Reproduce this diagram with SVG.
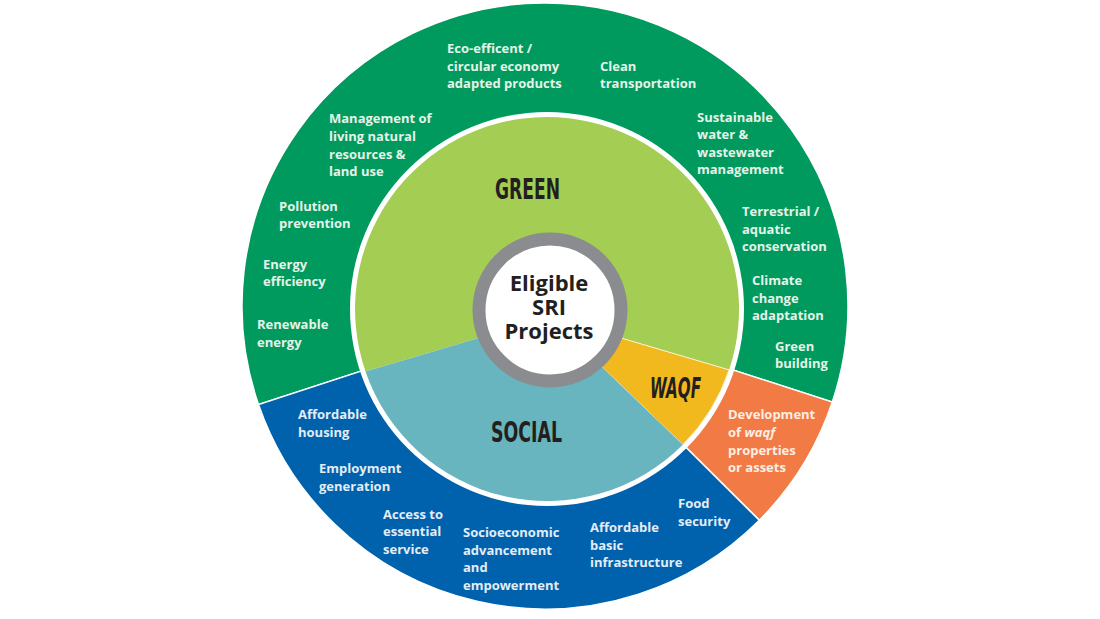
<svg xmlns="http://www.w3.org/2000/svg" width="1100" height="619" viewBox="0 0 1100 619">
<style>
.lbl{font-family:"Open Sans","Noto Sans","DejaVu Sans",sans-serif;font-weight:700;font-size:13px;}
.lg{fill:#e6f3e8;}
.lb{fill:#e4ecf6;}
.lo{fill:#fdeee4;}
.big{font-family:"DejaVu Sans Condensed","DejaVu Sans",sans-serif;font-weight:700;font-size:29px;fill:#231f20;}
.ctr{font-family:"Open Sans","Noto Sans",sans-serif;font-weight:700;font-size:22px;fill:#231f20;text-anchor:middle;}
.seg{stroke:#ffffff;stroke-width:1.5;}
</style>
<rect width="1100" height="619" fill="#ffffff"/>
<g id="ring-green"><path class="seg" d="M548 310 L258.5 404.6 A303 303 0 1 1 832.3 402.1 Z" fill="#009a5e"/></g>
<g id="ring-waqf"><path class="seg" d="M548 310 L832.3 402.1 A303 303 0 0 1 759.3 520.3 Z" fill="#f27a45"/></g>
<g id="ring-social"><path class="seg" d="M548 310 L759.3 520.3 A303 303 0 0 1 258.5 404.6 Z" fill="#0062ad"/></g>
<circle cx="547" cy="309" r="197" fill="#ffffff"/>
<g id="inner-green"><path d="M550 317 L365.5 371.5 A192 192 0 1 1 729.1 369.9 Z" fill="#a4cd54"/></g>
<g id="inner-waqf"><path d="M550 317 L729.1 369.9 A192 192 0 0 1 682.8 444.8 Z" fill="#f1b91d" stroke="#fbf3d8" stroke-width="1"/></g>
<g id="inner-social"><path d="M550 317 L682.8 444.8 A192 192 0 0 1 365.5 371.5 Z" fill="#68b5bf"/></g>
<g id="center">
<circle cx="550" cy="310" r="71" fill="#ffffff" stroke="#8b8c8f" stroke-width="13"/>
<text class="ctr"><tspan x="549" y="291">Eligible</tspan><tspan x="549" y="315">SRI</tspan><tspan x="549" y="339">Projects</tspan></text>
</g>
<g id="title-green"><text class="big" x="495" y="199" textLength="65" lengthAdjust="spacingAndGlyphs">GREEN</text></g>
<g id="title-social"><text class="big" x="491" y="442" textLength="71" lengthAdjust="spacingAndGlyphs">SOCIAL</text></g>
<g id="title-waqf"><text class="big" x="650" y="398" font-style="italic" textLength="51" lengthAdjust="spacingAndGlyphs">WAQF</text></g>
<g id="connectors"/>
<g id="labels-green">
<text class="lbl lg"><tspan x="447" y="53">Eco-efficent /</tspan><tspan x="447" y="71">circular economy</tspan><tspan x="447" y="88">adapted products</tspan></text>
<text class="lbl lg"><tspan x="600" y="71">Clean</tspan><tspan x="600" y="88">transportation</tspan></text>
<text class="lbl lg"><tspan x="697" y="122">Sustainable</tspan><tspan x="697" y="139">water &amp;</tspan><tspan x="697" y="157">wastewater</tspan><tspan x="697" y="174">management</tspan></text>
<text class="lbl lg"><tspan x="329" y="123">Management of</tspan><tspan x="329" y="141">living natural</tspan><tspan x="329" y="159">resources &amp;</tspan><tspan x="329" y="176">land use</tspan></text>
<text class="lbl lg"><tspan x="279" y="211">Pollution</tspan><tspan x="279" y="228">prevention</tspan></text>
<text class="lbl lg"><tspan x="263" y="269">Energy</tspan><tspan x="263" y="286">efficiency</tspan></text>
<text class="lbl lg"><tspan x="257" y="329">Renewable</tspan><tspan x="257" y="347">energy</tspan></text>
<text class="lbl lg"><tspan x="742" y="216">Terrestrial /</tspan><tspan x="742" y="234">aquatic</tspan><tspan x="742" y="251">conservation</tspan></text>
<text class="lbl lg"><tspan x="752" y="285">Climate</tspan><tspan x="752" y="303">change</tspan><tspan x="752" y="320">adaptation</tspan></text>
<text class="lbl lg"><tspan x="775" y="351">Green</tspan><tspan x="775" y="368">building</tspan></text>
</g>
<g id="labels-waqf">
<text class="lbl lo"><tspan x="728" y="419">Development</tspan><tspan x="728" y="437">of <tspan font-style="italic">waqf</tspan></tspan><tspan x="728" y="455">properties</tspan><tspan x="728" y="472">or assets</tspan></text>
</g>
<g id="labels-social">
<text class="lbl lb"><tspan x="298" y="419">Affordable</tspan><tspan x="298" y="437">housing</tspan></text>
<text class="lbl lb"><tspan x="319" y="473">Employment</tspan><tspan x="319" y="491">generation</tspan></text>
<text class="lbl lb"><tspan x="383" y="519">Access to</tspan><tspan x="383" y="536">essential</tspan><tspan x="383" y="554">service</tspan></text>
<text class="lbl lb"><tspan x="463" y="537">Socioeconomic</tspan><tspan x="463" y="555">advancement</tspan><tspan x="463" y="572">and</tspan><tspan x="463" y="590">empowerment</tspan></text>
<text class="lbl lb"><tspan x="590" y="532">Affordable</tspan><tspan x="590" y="550">basic</tspan><tspan x="590" y="567">infrastructure</tspan></text>
<text class="lbl lb"><tspan x="678" y="508">Food</tspan><tspan x="678" y="526">security</tspan></text>
</g>
</svg>
